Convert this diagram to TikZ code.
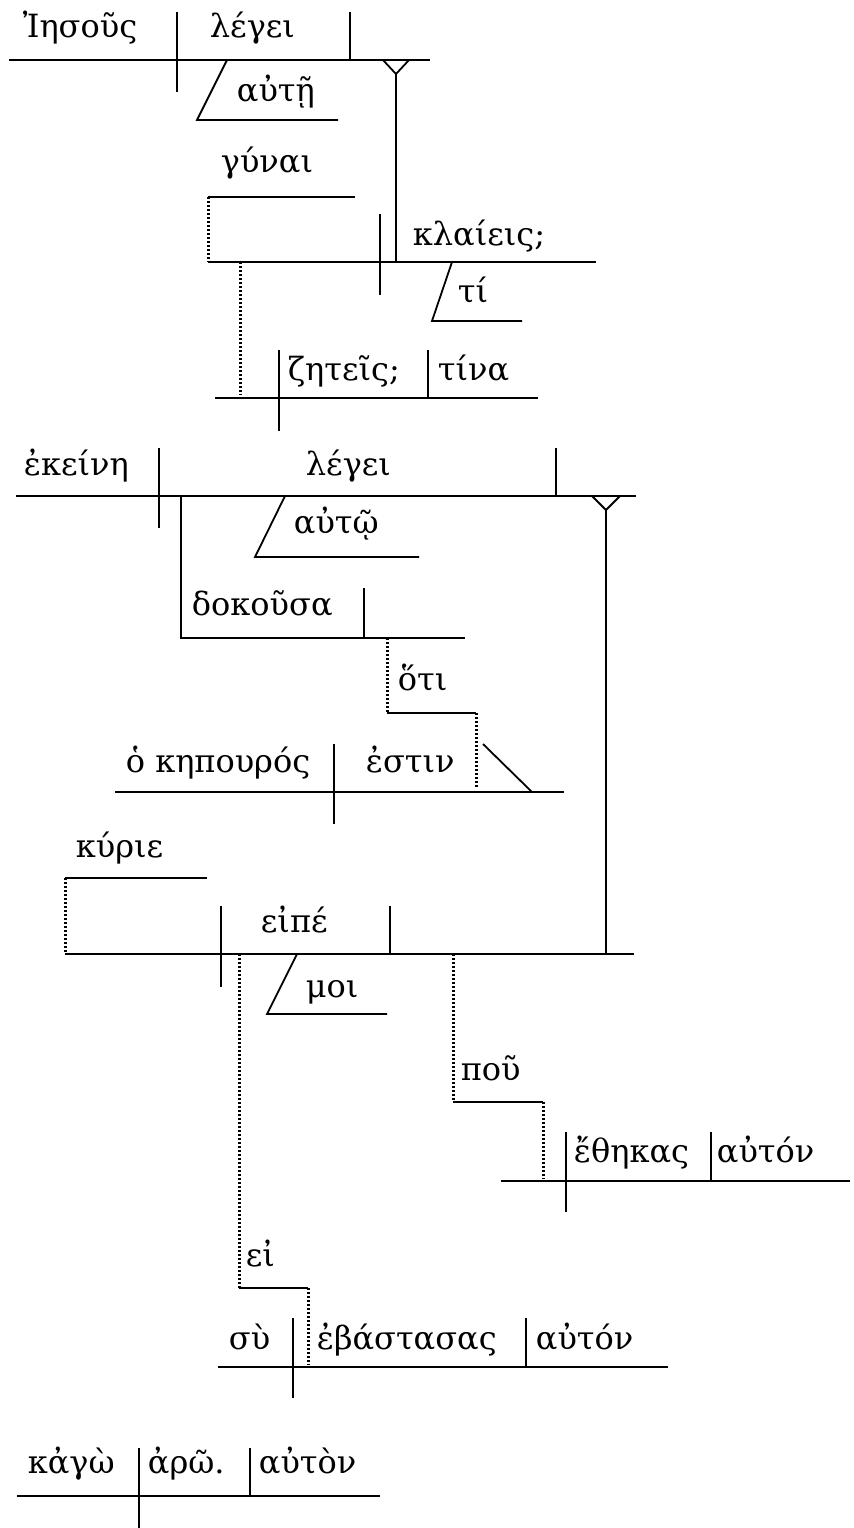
\documentclass[tikz,border=0pt]{standalone}
\usepackage{fontspec}
\setmainfont{DejaVu Serif}
\usepackage{tikz}
\tikzstyle{word} = [anchor=base west, inner sep=0pt, font=\fontsize{16}{19}\selectfont]
\tikzstyle{dots} = [line width=1.5pt, dash pattern=on 1pt off 1pt]

\begin{document}
\begin{tikzpicture}[x=0.5pt, y=-0.5pt, line width=0.9pt]
            \useasboundingbox (0,0) rectangle (854,1528);
            \node[word] (iesous) at (22,37) {Ἰησοῦς};
            \node[word] (legei1) at (209,37) {λέγει};
            \draw (9,60) -- (430,60);
            \draw (177,12) -- (177,92);
            \draw (350,12) -- (350,60);
            \draw (383,60) -- (396,74) -- (409,60);
            \draw (396,74) -- (396,262);
            \draw (227,60) -- (197,120) -- (338,120);
            \node[word] (aute) at (236,101) {αὐτῇ};
            \node[word] (gunai) at (220,172) {γύναι};
            \draw (208,197) -- (355,197);
            \draw[dots] (208,197) -- (208,262);
            \draw (208,262) -- (596,262);
            \draw (380,214) -- (380,295);
            \node[word] (klaieis) at (412,245) {κλαίεις;};
            \draw (452,262) -- (432,321) -- (522,321);
            \node[word] (ti) at (457,302) {τί};
            \draw[dots] (240,262) -- (240,395);
            \draw (215,398) -- (538,398);
            \draw (279,350) -- (279,431);
            \draw (428,350) -- (428,398);
            \node[word] (zeteis) at (287,380) {ζητεῖς;};
            \node[word] (tina) at (437,380) {τίνα};

            \node[word] (ekeine) at (23,475) {ἐκείνη};
            \node[word] (legei2) at (305,475) {λέγει};
            \draw (16,496) -- (636,496);
            \draw (159,448) -- (159,528);
            \draw (556,448) -- (556,496);
            \draw (592,496) -- (606,510) -- (620,496);
            \draw (606,510) -- (606,954);
            \draw (285,496) -- (255,557) -- (419,557);
            \node[word] (auto) at (293,533) {αὐτῷ};
            \draw (181,496) -- (181,638) -- (465,638);
            \draw (364,588) -- (364,638);
            \node[word] (dokousa) at (191,615) {δοκοῦσα};
            \draw[dots] (387,638) -- (387,713);
            \draw (387,713) -- (476,713);
            \node[word] (hoti) at (397,690) {ὅτι};
            \draw[dots] (476,713) -- (476,789);
            \draw (115,792) -- (564,792);
            \draw (334,744) -- (334,824);
            \draw (483,744) -- (532,792);
            \node[word] (kepouros) at (125,772) {ὁ κηπουρός};
            \node[word] (estin) at (365,772) {ἐστιν};

            \node[word] (kurie) at (75,857) {κύριε};
            \draw (65,878) -- (207,878);
            \draw[dots] (65,878) -- (65,954);
            \draw (65,954) -- (634,954);
            \draw (221,906) -- (221,987);
            \draw (390,906) -- (390,954);
            \node[word] (eipe) at (260,932) {εἰπέ};
            \draw (297,954) -- (267,1014) -- (387,1014);
            \node[word] (moi) at (305,997) {μοι};
            \draw[dots] (453,954) -- (453,1102);
            \draw (453,1102) -- (543,1102);
            \node[word] (pou) at (460,1080) {ποῦ};
            \draw[dots] (543,1102) -- (543,1179);
            \draw (501,1181) -- (850,1181);
            \draw (566,1132) -- (566,1212);
            \draw (711,1132) -- (711,1181);
            \node[word] (ethekas) at (573,1162) {ἔθηκας};
            \node[word] (auton1) at (716,1162) {αὐτόν};
            \draw[dots] (239,954) -- (239,1288);
            \draw (239,1288) -- (308,1288);
            \node[word] (ei) at (245,1266) {εἰ};
            \draw[dots] (308,1288) -- (308,1365);
            \draw (218,1367) -- (668,1367);
            \draw (293,1318) -- (293,1398);
            \draw (526,1318) -- (526,1367);
            \node[word] (su) at (228,1349) {σὺ};
            \node[word] (ebastasas) at (316,1349) {ἐβάστασας};
            \node[word] (auton2) at (535,1349) {αὐτόν};

            \draw (17,1496) -- (380,1496);
            \draw (139,1448) -- (139,1528);
            \draw (250,1448) -- (250,1496);
            \node[word] (kago) at (27,1473) {κἀγὼ};
            \node[word] (aro) at (147,1473) {ἀρῶ.};
            \node[word] (auton3) at (258,1473) {αὐτὸν};
        \end{tikzpicture}
\end{document}
